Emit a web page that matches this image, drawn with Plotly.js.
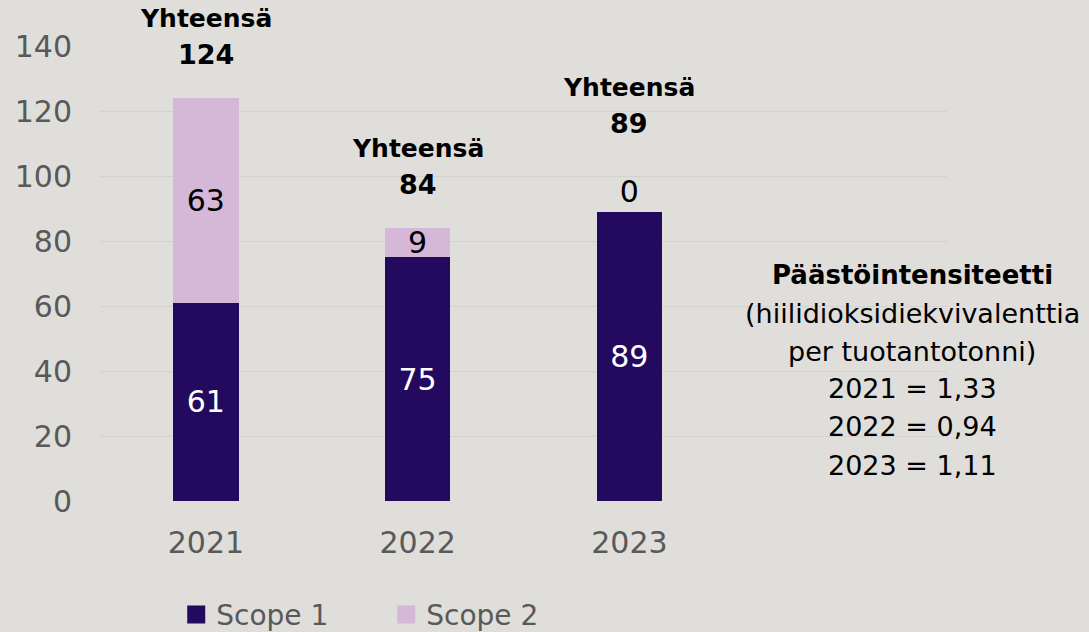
<!DOCTYPE html>
<html>
<head>
<meta charset="utf-8">
<script src="https://cdn.plot.ly/plotly-3.0.1.min.js"></script>
<style>html,body{margin:0;padding:0;background:#DFDEDA;}</style>
</head>
<body>
<div id="chart" style="width:1089px;height:632px;"></div>
<script>
const years = ['2021', '2022', '2023'];
const scope1 = [61, 75, 89];
const scope2 = [63, 9, 0];
const totals = [124, 84, 89];
const seriesNames = ['Scope 1', 'Scope 2'];
const totalLabel = 'Yhteensä';
const intensityTitle = 'Päästöintensiteetti';
const intensityLines = ['(hiilidioksidiekvivalenttia', 'per tuotantotonni)', '2021 = 1,33', '2022 = 0,94', '2023 = 1,11'];

const FONT = '"DejaVu Sans", sans-serif';
const C1 = '#230A5F', C2 = '#D5B8D8';

const traces = [
  {type: 'bar', name: seriesNames[0], x: years, y: scope1, marker: {color: C1},
   width: 0.31, text: scope1.map(String), textposition: 'inside', insidetextanchor: 'middle',
   textangle: 0, textfont: {color: '#FFFFFF', size: 30, family: FONT}, hoverinfo: 'none', showlegend: false},
  {type: 'bar', name: seriesNames[1], x: years, y: scope2, marker: {color: C2},
   width: 0.31, text: scope2.map(String),
   textposition: scope2.map(v => v > 0 ? 'inside' : 'outside'), insidetextanchor: 'middle',
   textangle: 0, textfont: {color: '#000000', size: 30, family: FONT},
   insidetextfont: {color: '#000000', size: 30, family: FONT},
   outsidetextfont: {color: '#000000', size: 30, family: FONT},
   cliponaxis: false, constraintext: 'none', hoverinfo: 'none', showlegend: false},
  {type: 'scatter', mode: 'markers', name: seriesNames[0], x: [null], y: [null],
   marker: {symbol: 'square', size: 16, color: C1, line: {color: C1, width: 2}}, hoverinfo: 'none'},
  {type: 'scatter', mode: 'markers', name: seriesNames[1], x: [null], y: [null],
   marker: {symbol: 'square', size: 16, color: C2, line: {color: C2, width: 2}}, hoverinfo: 'none'}
];

const annotations = [];
years.forEach((yr, i) => {
  const extra = scope2[i] === 0 ? 44 : 0;
  annotations.push({x: i, y: totals[i], xref: 'x', yref: 'y', text: '<b>' + totals[i] + '</b>',
    showarrow: false, yanchor: 'middle', yshift: 44 + extra, font: {size: 27, color: '#000', family: FONT}});
  annotations.push({x: i, y: totals[i], xref: 'x', yref: 'y', text: '<b>' + totalLabel + '</b>',
    showarrow: false, yanchor: 'middle', yshift: 80 + extra, font: {size: 25, color: '#000', family: FONT}});
});
const ax = 0.959;
const lineYs = [0.496, 0.413, 0.329, 0.248, 0.164, 0.079];
annotations.push({xref: 'paper', yref: 'paper', x: ax, y: lineYs[0], text: '<b>' + intensityTitle + '</b>',
  showarrow: false, xanchor: 'center', yanchor: 'middle', font: {size: 26, color: '#000', family: FONT}});
intensityLines.forEach((t, i) => {
  annotations.push({xref: 'paper', yref: 'paper', x: ax, y: lineYs[i + 1], text: t,
    showarrow: false, xanchor: 'center', yanchor: 'middle', font: {size: 27, color: '#000', family: FONT}});
});

const layout = {
  width: 1089, height: 632,
  margin: {l: 100, r: 142, t: 46, b: 131, autoexpand: false},
  paper_bgcolor: '#DFDEDA', plot_bgcolor: '#DFDEDA',
  barmode: 'stack',
  showlegend: true,
  legend: {orientation: 'h', x: 0.09, y: -0.25, xanchor: 'left', yanchor: 'middle', traceorder: 'normal',
    font: {size: 28, color: '#595959', family: FONT}, entrywidth: 165, entrywidthmode: 'pixels',
    bgcolor: 'rgba(0,0,0,0)'},
  xaxis: {type: 'category', range: [-0.5, 3.5], showgrid: false, zeroline: false, showline: false,
    ticks: 'outside', ticklen: 15, tickcolor: 'rgba(0,0,0,0)',
    tickfont: {size: 30, color: '#595959', family: FONT}},
  yaxis: {range: [0, 140], dtick: 20, showgrid: true, gridcolor: '#D3D2CF', gridwidth: 1,
    zeroline: false, showline: false, ticks: 'outside', ticklen: 21, tickcolor: 'rgba(0,0,0,0)',
    tickfont: {size: 30, color: '#595959', family: FONT}},
  annotations: annotations,
  font: {family: FONT}
};

Plotly.newPlot('chart', traces, layout, {staticPlot: true, displayModeBar: false});
</script>
</body>
</html>
